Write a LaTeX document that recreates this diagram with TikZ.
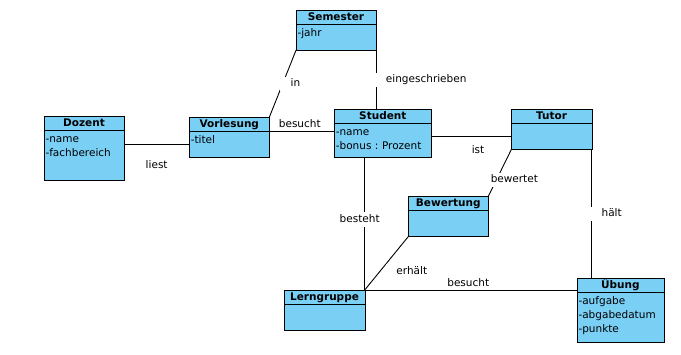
\documentclass[tikz,border=0pt]{standalone}
\usepackage{fontspec}
\setmainfont{DejaVu Sans}
\usepackage{xcolor}
\usepackage{tikz}
\usetikzlibrary{positioning}
\definecolor{umlblau}{RGB}{122,207,245}
\frenchspacing

\begin{document}
\begin{tikzpicture}[
        x=1pt, y=-1pt,
        kopf/.style={rectangle, draw, fill=umlblau, anchor=north west, minimum width=80pt, minimum height=14pt, inner sep=0pt, outer sep=0pt, text height=8.5pt, text depth=2pt, font=\fontsize{10.5}{14}\selectfont\bfseries},
        rumpf/.style={rectangle, draw, fill=umlblau, text width=77pt, align=left, inner xsep=1.5pt, inner ysep=0pt, outer sep=0pt, text height=12.3pt, text depth=13.7pt, font=\fontsize{10.5}{14}\selectfont},
        linie/.style={line width=0.9pt},
        rolle/.style={inner sep=0pt, font=\fontsize{10.5}{14}\selectfont},
        rollegap/.style={rolle, fill=white, inner xsep=10.5pt, inner ysep=2pt, text height=8pt, text depth=2.5pt}
    ]
        \useasboundingbox (0,0) rectangle (681,355);

        % Klassen
        \node[kopf] (semester) at (296,10.3) {Semester};
        \node[rumpf, below=0pt of semester] (semesterA) {-jahr};
        \node[kopf] (dozent) at (44,116.7) {Dozent};
        \node[rumpf, text depth=37.7pt, below=0pt of dozent] (dozentA) {-name\\-fachbereich};
        \node[kopf] (vorlesung) at (189.3,117.3) {Vorlesung};
        \node[rumpf, below=0pt of vorlesung] (vorlesungA) {-titel};
        \node[kopf, minimum width=97pt] (student) at (334.3,109.3) {Student};
        \node[rumpf, text width=94pt, text depth=21.4pt, below=0pt of student] (studentA) {-name\\-bonus : Prozent};
        \node[kopf, minimum width=80.4pt] (tutor) at (511.3,109.3) {Tutor};
        \node[rumpf, text width=77.4pt, text depth=14pt, below=0pt of tutor] (tutorA) {};
        \node[kopf] (bewertung) at (408.3,196.3) {Bewertung};
        \node[rumpf, text depth=14pt, below=0pt of bewertung] (bewertungA) {};
        \node[kopf, minimum width=80.4pt] (lerngruppe) at (284.3,290) {Lerngruppe};
        \node[rumpf, text width=77.4pt, text depth=14pt, below=0pt of lerngruppe] (lerngruppeA) {};
        \node[kopf, minimum width=86.7pt] (uebung) at (577,278.3) {Übung};
        \node[rumpf, text width=83.7pt, text depth=37.5pt, below=0pt of uebung] (uebungA) {-aufgabe\\-abgabedatum\\-punkte};

        % Assoziationen
        \draw[linie] (dozentA.east |- vorlesungA.west) -- node[rolle, yshift=-20pt] {liest} (vorlesungA.west);
        \draw[linie] (vorlesung.south east) -- node[rolle, xshift=-2pt, yshift=8pt] {besucht} (vorlesung.south east -| studentA.west);
        \draw[linie] (vorlesung.north east) -- node[rollegap, anchor=west, xshift=-3pt] {in} (semesterA.south west);
        \draw[linie] (semesterA.south east) -- node[rollegap, anchor=west, xshift=-1pt] {eingeschrieben} (semesterA.south east |- student.north);
        \draw[linie] (studentA.east |- tutorA.west) -- node[rolle, xshift=6.7pt, yshift=-13.5pt] {ist} (tutorA.west);
        \draw[linie] (tutorA.south west) -- node[rollegap, pos=0.65, xshift=18pt] {bewertet} (bewertung.north east);
        \draw[linie] (tutorA.south east) -- node[rollegap, anchor=west, xshift=-1pt] {hält} (tutorA.south east |- uebung.north);
        \draw[linie] (studentA.south -| lerngruppe.north east) -- node[rollegap, pos=0.47, xshift=-5pt] {besteht} (lerngruppe.north east);
        \draw[linie] (bewertungA.south west) -- node[rollegap, anchor=west, xshift=-1pt, yshift=-8pt] {erhält} (lerngruppe.north east);
        \draw[linie] (lerngruppe.north east) -- node[rolle, xshift=-2.6pt, yshift=7pt] {besucht} (lerngruppe.north east -| uebungA.west);
    \end{tikzpicture}
\end{document}
